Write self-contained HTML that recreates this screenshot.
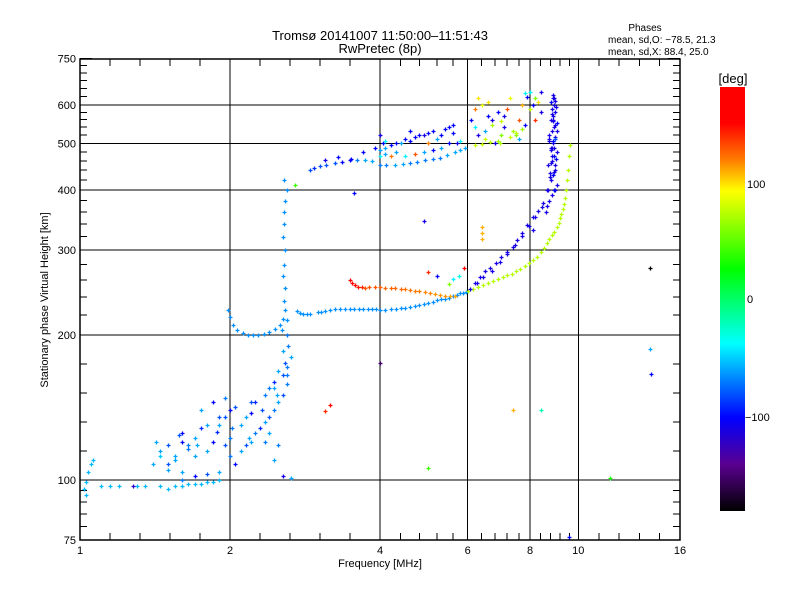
<!DOCTYPE html>
<html><head><meta charset="utf-8">
<style>
body{margin:0;background:#fff;}
svg{display:block;font-family:"Liberation Sans","DejaVu Sans",sans-serif;}
</style></head>
<body>
<svg id="chart" width="800" height="600" viewBox="0 0 800 600" xmlns="http://www.w3.org/2000/svg">
<defs>
<linearGradient id="cmap" x1="0" y1="0" x2="0" y2="1">
<stop offset="0" stop-color="#ff0000"/><stop offset="0.085" stop-color="#ff0000"/>
<stop offset="0.17" stop-color="#ff7a00"/><stop offset="0.245" stop-color="#ffff00"/>
<stop offset="0.43" stop-color="#00ff00"/><stop offset="0.605" stop-color="#00ffff"/>
<stop offset="0.78" stop-color="#0000ff"/><stop offset="0.89" stop-color="#5a0090"/>
<stop offset="1" stop-color="#000000"/></linearGradient>
</defs>
<text x="380" y="40" font-size="13" text-anchor="middle">Tromsø 20141007 11:50:00–11:51:43</text>
<text x="380" y="53" font-size="13" text-anchor="middle">RwPretec (8p)</text>
<text x="645" y="31" font-size="10" text-anchor="middle">Phases</text>
<text x="608" y="43" font-size="10">mean, sd,O: −78.5, 21.3</text>
<text x="608" y="55" font-size="10">mean, sd,X:  88.4, 25.0</text>
<g id="grid"></g>
<g id="ticks"></g>
<g id="marks"></g>
<rect x="80" y="59" width="600" height="481" fill="none" stroke="#000" stroke-width="1.5"/>
<g id="labels" font-size="11"></g>
<text x="380" y="567" font-size="11" text-anchor="middle">Frequency [MHz]</text>
<text transform="translate(48,300) rotate(-90)" font-size="11" text-anchor="middle">Stationary phase Virtual Height [km]</text>
<rect x="720" y="87" width="25" height="424" fill="url(#cmap)"/>
<text x="733" y="83" font-size="13" text-anchor="middle">[deg]</text>
<text x="747" y="188" font-size="11">100</text>
<text x="747" y="303" font-size="11">0</text>
<text x="745" y="421" font-size="11">−100</text>
</svg>
<script>
const xTickLabels=[1,2,4,6,8,10,16];
const xGridVals=[2,4,6,8,10];
const xMinorVals=[1.149,1.32,1.516,1.741,2.297,2.639,3.031,3.482,4.4,4.8,5.2,5.6,6.4,6.8,7.2,7.6,8.4,8.8,9.2,9.6,11,12.07,13.26,14.56];
const yTickLabels=[75,100,200,300,400,500,600,750];
const yGridVals=[100,200,300,400,500,600];
const yMinorVals=[80,85,90,95,114.9,132,151.6,174.1,220,240,260,280,320,340,360,380,420,440,460,480,520,540,560,580,625,650,675,700,725];

const lowLine_f=[1.02,1.03,1.04,1.05,1.06,1.03,1.1,1.15,1.2,1.3,1.35,1.45,1.5,1.55,1.6,1.65,1.7,1.75,1.8,1.85,1.9];
const lowLine_h=[96,99,104,108,110,93,97,97,97,97,97,97,96,97,97,98,98,98,99,99,100];
const lowLine_p=-55;

const cluster_f=[1.45,1.5,1.55,1.6,1.65,1.7,1.5,1.55,1.6,1.65,1.7,1.75,1.8,1.85,1.9,1.95,2.0,1.6,1.7,1.8,1.9,2.0,2.05,2.1,2.15,2.2,2.25,2.3,2.35,2.4,2.45,2.5,2.55,2.6,1.75,1.85,1.95,2.05,2.15,2.25,2.35,2.45,2.55,2.6,2.65,2.62,2.58,2.5,2.45,2.4,2.55,2.6,1.8,1.9,2.0,1.5,1.6,1.95,2.1,2.2,2.35,2.45,2.55,2.65,2.6,1.4,1.45,2.2,2.4,2.5,1.42,1.58,1.72,1.88,2.02,2.18,2.32,2.48];
const cluster_h=[115,118,112,120,116,122,108,110,125,118,112,128,115,120,130,118,122,104,102,103,104,112,108,115,118,120,125,128,132,135,140,145,150,158,140,145,148,142,135,145,150,155,165,172,180,190,175,168,160,155,185,200,130,135,140,105,100,135,130,138,120,110,102,101,165,108,112,145,125,118,120,124,118,126,128,122,140,150];
const cluster_p=[-60,-80,-60,-100,-70,-60,-80,-60,-100,-70,-60,-90,-60,-100,-60,-80,-70,-60,-100,-80,-60,-70,-100,-60,-80,-60,-70,-90,-60,-80,-70,-60,-80,-70,-60,-100,-70,-80,-60,-90,-70,-60,-80,-70,-60,-70,-80,-60,-90,-70,-60,-70,-60,-80,-100,-60,-70,-80,-60,-100,-70,-60,-110,-60,-70,-60,-50,-80,-60,-70,-60,-80,-60,-90,-70,-60,-80,-60];

const f1_f=[1.98,2.0,2.03,2.07,2.12,2.17,2.22,2.28,2.34,2.40,2.46,2.52,2.56,2.58,2.57,2.58,2.56,2.57,2.58,2.56,2.57,2.57,2.58,2.6,2.57,2.54,2.6];
const f1_h=[225,218,210,205,202,200,200,200,201,203,206,210,216,225,235,250,265,280,300,320,340,360,380,400,420,205,215];
const f1_p=-65;

const f2o_f=[2.72,2.8,2.9,3.0,3.1,3.25,3.4,3.55,3.7,3.85,4.0,4.2,4.4,4.6,4.8,5.0,5.2,5.4,5.6,5.8,5.95,2.76,2.86,3.05,3.18,3.33,3.48,3.63,3.78,3.93,4.1,4.3,4.5,4.7,4.9,5.1,5.3,5.5,5.7,5.88];
const f2o_h=[224,221,221,223,224,226,227,227,227,226,225,226,228,229,231,233,236,238,241,244,246,222,221,223,225,226,227,227,227,226,225,227,228,230,232,234,237,239,242,245];
const f2o_p=-65;

const orange_f=[3.48,3.52,3.56,3.62,3.68,3.73,3.8,3.9,4.0,4.1,4.2,4.28,4.4,4.5,4.59,4.7,4.8,4.92,5.05,5.15,5.28,5.4,5.52,5.66];
const orange_h=[260,257,254,252,251,250,251,251,251,250,250,250,249,249,248,247,247,246,244,243,242,241,241,241];
const orange_p=[150,150,148,145,140,130,130,128,127,126,125,125,124,122,122,120,120,118,118,115,115,115,112,112];

const xg_f=[6.0,6.15,6.3,6.45,6.6,6.75,6.9,7.05,7.2,7.35,7.5,7.65,7.8,7.95,8.1,8.25,8.4,8.55,8.65,8.75,8.85,8.95,9.06,9.13,9.2,9.25,9.3,9.35,9.4,9.45,9.5,9.55,9.6,9.62];
const xg_h=[247,249,252,254,257,259,261,264,266,268,271,274,278,282,286,291,297,303,310,316,322,328,335,342,350,357,365,375,385,400,420,440,470,495];
const xg_p=75;

const xb_f=[6.06,6.2,6.35,6.5,6.65,6.85,7.0,7.2,7.4,7.55,7.72,7.9,8.1,8.3,8.5,8.65,8.76,8.85,8.9,8.98,6.25,6.45,6.7,6.95,7.2,7.45,7.7,7.95,8.2,8.45];
const xb_h=[249,256,264,272,276,282,290,297,305,315,326,338,351,362,376,400,433,490,558,613,256,264,272,283,294,307,321,336,352,368];
const xb_p=-110;

const cl_f=[8.75,8.85,8.95,9.05,8.8,8.9,9.0,8.7,8.85,8.95,9.05,8.8,8.9,9.0,8.75,8.85,8.95,9.05,8.8,8.9,9.0,8.85,8.95,8.8,8.9,9.0,8.85,8.95,8.75,9.05,8.7,8.6,8.65,8.9,8.95,9.0,8.8,8.9,9.0,8.85,8.78,8.92,9.02,8.82,8.96,8.88,9.04,8.74];
const cl_h=[380,390,400,410,420,430,440,450,460,470,480,490,500,510,520,530,540,550,560,570,580,590,600,610,620,450,470,490,510,530,400,360,370,630,620,400,455,505,545,575,425,435,465,485,515,555,595,505];
const cl_p=[-110,-110,-100,-110,-110,-100,-110,-110,-110,-100,-110,-110,-110,-80,-110,-110,-110,-100,-110,-110,-110,-110,-110,-100,-110,-110,-110,-110,-110,-110,-110,-110,-110,-110,-110,-110,-110,-100,-110,-110,-110,-110,-100,-110,-110,-110,-110,-110];

const up_f=[2.89,3.03,3.25,3.48,3.73,4.0,4.28,4.59,4.92,5.28,5.66,5.93,6.2,6.64,6.96,2.95,3.12,3.35,3.6,3.85,4.12,4.45,4.75,5.1,5.45,5.8,6.4];
const up_h=[440,448,455,461,461,451,451,455,461,467,479,490,495,503,500,444,451,458,462,459,451,453,458,464,472,485,498];
const up_p=[-80,-80,-80,-100,-60,-70,-60,-70,-70,-70,-60,-60,80,75,70,-90,-80,-100,-70,-60,-70,-60,-70,-70,-60,-60,80];

const band_f=[3.7,3.9,4.0,4.05,4.1,4.2,4.3,4.4,4.5,4.6,4.7,4.8,4.9,5.0,5.1,5.2,5.3,5.4,5.5,5.6,5.7,5.8,4.0,4.1,4.2,4.3,4.5,4.7,4.9,5.1,5.3,5.5,4.0,4.1,4.6,5.0,5.6,3.5,3.3,3.1];
const band_h=[480,490,485,500,505,495,500,500,510,505,515,520,520,525,530,510,520,535,540,545,500,505,470,475,470,480,470,475,480,485,490,500,520,490,530,500,525,465,468,462];
const band_p=[-100,-100,-60,-100,-40,-100,-100,-60,-100,-100,-100,-100,-110,-100,-100,-60,-100,-100,-100,-100,-110,-40,-40,-60,120,-60,-40,130,-60,-100,-60,-100,-110,-60,-100,120,-100,-100,-100,-110];

const ur_f=[6.1,6.2,6.3,6.4,6.5,6.6,6.7,6.8,6.9,7.0,7.1,7.2,7.3,7.4,7.5,7.6,7.7,7.8,7.5,7.6,7.7,7.8,6.3,6.5,6.7,6.9,7.1,7.3,7.9,8.0,8.1,8.2,8.3,8.4,8.0,8.2,8.4,6.2,6.6,7.0];
const ur_h=[560,590,520,600,530,610,545,500,580,520,540,590,515,530,525,560,535,545,520,510,600,635,620,510,560,505,570,620,625,640,600,560,610,580,590,620,640,540,570,555];
const ur_p=[-100,120,-110,90,-60,100,70,-110,-100,60,-110,130,80,70,75,130,70,-100,60,-60,110,-40,100,80,-110,70,-110,90,-100,-40,-100,140,100,-110,80,60,-110,-40,-100,80];

const iso_f=[5.0,5.2,5.6,5.75,5.5,5.9,6.4,6.4,6.4,4.0,3.17,3.1,2.7,13.9,13.9,14.0,11.6,9.6,8.4,7.4,5.0,8.1,3.55,4.9,1.28];
const iso_h=[270,265,262,265,255,275,335,325,316,175,143,139,410,275,187,166,101,76,140,140,106,330,394,345,97];
const iso_p=[140,-100,-40,-30,60,150,110,110,110,-150,150,140,40,-180,-60,-100,30,-100,-20,110,40,-110,-100,-110,-120];

function xs(f){return 80+150*Math.log2(f);}
function ys(h){return 480-145*Math.log2(h/100);}
const cstops=[[180,[255,0,0]],[150,[255,0,0]],[120,[255,122,0]],[95,[255,255,0]],[25,[0,255,0]],[-38,[0,255,255]],[-100,[0,0,255]],[-140,[90,0,144]],[-180,[0,0,0]]];
function pcolor(p){
  for(let i=0;i<cstops.length-1;i++){
    const a=cstops[i],b=cstops[i+1];
    if(p<=a[0]&&p>=b[0]){const t=(a[0]-p)/(a[0]-b[0]);
      const c=a[1].map((v,k)=>Math.round(v+(b[1][k]-v)*t));return 'rgb('+c.join(',')+')';}
  }
  return p>180?'#f00':'#000';
}
const NS='http://www.w3.org/2000/svg';
function line(g,x1,y1,x2,y2,w,name){
  const l=document.createElementNS(NS,'line');
  l.setAttribute('x1',x1);l.setAttribute('y1',y1);l.setAttribute('x2',x2);l.setAttribute('y2',y2);
  l.setAttribute('stroke','#000');l.setAttribute('stroke-width',w);l.setAttribute('shape-rendering','crispEdges');
  
  
  g.appendChild(l);
}
const grid=document.getElementById('grid'),ticks=document.getElementById('ticks'),labels=document.getElementById('labels'),marks=document.getElementById('marks');
xGridVals.forEach(v=>line(grid,xs(v),59,xs(v),540,1,'x-grid-line'));
yGridVals.forEach(v=>line(grid,80,ys(v),680,ys(v),1,'y-grid-line'));
xMinorVals.forEach(v=>{line(ticks,xs(v),540,xs(v),533,1,'x-minor-tick');line(ticks,xs(v),59,xs(v),66,1,'x-minor-tick-top');});
yMinorVals.forEach(v=>{line(ticks,80,ys(v),87,ys(v),1,'y-minor-tick');line(ticks,680,ys(v),673,ys(v),1,'y-minor-tick-right');});
[75,750].forEach(v=>{line(ticks,80,ys(v),92,ys(v),1,'y-major-tick');line(ticks,680,ys(v),668,ys(v),1,'y-major-tick-right');});
xTickLabels.forEach(v=>{
  const t=document.createElementNS(NS,'text');
  t.setAttribute('x',xs(v));t.setAttribute('y',554);t.setAttribute('text-anchor','middle');t.textContent=v;
  
  
  labels.appendChild(t);
});
yTickLabels.forEach(v=>{
  const t=document.createElementNS(NS,'text');
  t.setAttribute('x',76);t.setAttribute('y',ys(v)+4);t.setAttribute('text-anchor','end');t.textContent=v;
  
  
  labels.appendChild(t);
});
function drawGroup(fa,ha,pa,name){
  let d={};
  fa.forEach((f,i)=>{
    const p=Array.isArray(pa)?pa[i]:pa;
    const c=pcolor(p);
    const x=Math.round(xs(f))+0.5,y=Math.round(ys(ha[i]))+0.5;
    d[c]=(d[c]||'')+'M'+(x-2)+' '+y+'h4M'+x+' '+(y-2)+'v4';
  });
  Object.keys(d).forEach(c=>{
    const p=document.createElementNS(NS,'path');
    p.setAttribute('d',d[c]);p.setAttribute('stroke',c);p.setAttribute('stroke-width',1.3);p.setAttribute('fill','none');
    
    
    marks.appendChild(p);
  });
}
drawGroup(lowLine_f,lowLine_h,lowLine_p,'low-echo-line');
drawGroup(cluster_f,cluster_h,cluster_p,'e-region-cluster');
drawGroup(f1_f,f1_h,f1_p,'f1-trace');
drawGroup(f2o_f,f2o_h,f2o_p,'f2-o-trace');
drawGroup(orange_f,orange_h,orange_p,'orange-trace');
drawGroup(xg_f,xg_h,xg_p,'f2-x-trace-green');
drawGroup(xb_f,xb_h,xb_p,'f2-x-trace-blue');
drawGroup(cl_f,cl_h,cl_p,'cusp-cluster');
drawGroup(up_f,up_h,up_p,'upper-f-trace');
drawGroup(band_f,band_h,band_p,'upper-scatter-band');
drawGroup(ur_f,ur_h,ur_p,'upper-right-scatter');
drawGroup(iso_f,iso_h,iso_p,'isolated-points');
</script>
</body></html>
